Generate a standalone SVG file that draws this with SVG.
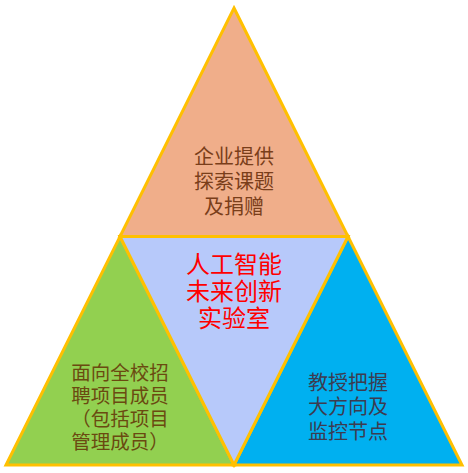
<svg xmlns="http://www.w3.org/2000/svg" width="468" height="473" viewBox="0 0 468 473">
<style>
.tri{stroke:#FFC000;stroke-width:3;stroke-linejoin:miter}
.t{font-family:"Noto Sans CJK SC","Noto Sans",sans-serif;text-anchor:middle}
</style>
<rect width="468" height="473" fill="#FFFFFF"/>
<g id="top">
<polygon class="tri" points="234,8 348,236.5 120,236.5" fill="#F0AE8A"/>
<text class="t" x="234" font-size="20" fill="#7A3E1A"><tspan x="234" y="163.5">企业提供</tspan><tspan x="234" y="188.5">探索课题</tspan><tspan x="234" y="213.5">及捐赠</tspan></text>
</g>
<g id="left">
<polygon class="tri" points="120,236.5 234,465 6,465" fill="#92D050"/>
<text class="t" font-size="19.5" fill="#6A4A10"><tspan x="120" y="380">面向全校招</tspan><tspan x="120" y="402.5">聘项目成员</tspan><tspan x="120" y="425.7">（包括项目</tspan><tspan x="120" y="449">管理成员）</tspan></text>
</g>
<g id="right">
<polygon class="tri" points="348,236.5 462,465 234,465" fill="#00B0F0"/>
<text class="t" font-size="20" fill="#3C3C50"><tspan x="348" y="390.4">教授把握</tspan><tspan x="348" y="414.3">大方向及</tspan><tspan x="348" y="439">监控节点</tspan></text>
</g>
<g id="center">
<polygon class="tri" points="120,236.5 348,236.5 234,465" fill="#B7C9FA"/>
<text class="t" font-size="24" fill="#FF0000"><tspan x="234" y="273">人工智能</tspan><tspan x="234" y="300">未来创新</tspan><tspan x="234" y="327">实验室</tspan></text>
</g>
<g id="connectors"></g>
</svg>
